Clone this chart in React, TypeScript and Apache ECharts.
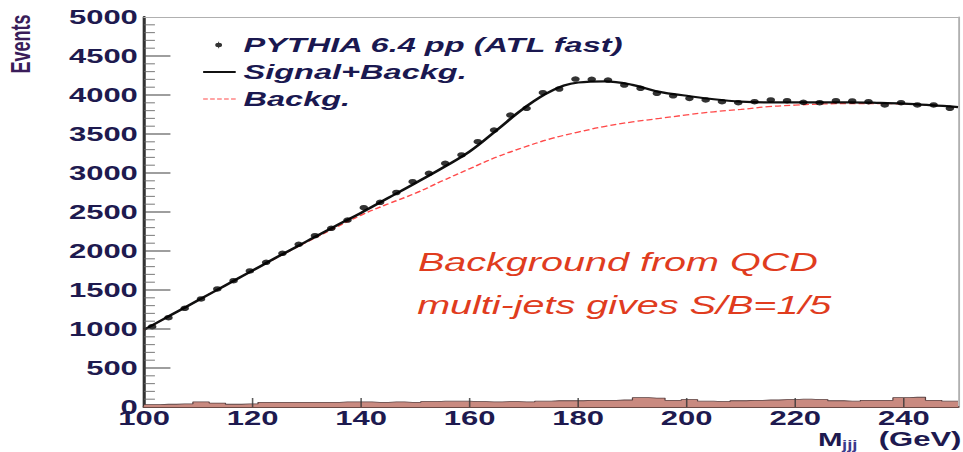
import React, { useEffect, useRef } from "react";
import * as echarts from "echarts";

// Reconstructed three-jet invariant mass (bin centres, GeV) and PYTHIA events per bin
const pythiaMass = [
  101.5, 104.5, 107.5, 110.5, 113.5, 116.5, 119.5, 122.5, 125.5, 128.5,
  131.5, 134.5, 137.5, 140.5, 143.5, 146.5, 149.5, 152.5, 155.5, 158.5,
  161.5, 164.5, 167.5, 170.5, 173.5, 176.5, 179.5, 182.5, 185.5, 188.5,
  191.5, 194.5, 197.5, 200.5, 203.5, 206.5, 209.5, 212.5, 215.5, 218.5,
  221.5, 224.5, 227.5, 230.5, 233.5, 236.5, 239.5, 242.5, 245.5, 248.5,
];
const pythiaEvents = [
  1029, 1145, 1265, 1385, 1513, 1619, 1744, 1855, 1970, 2086,
  2196, 2291, 2397, 2555, 2624, 2750, 2888, 2996, 3124, 3231,
  3401, 3551, 3743, 3829, 4030, 4077, 4205, 4201, 4192, 4128,
  4086, 4022, 3990, 3957, 3936, 3914, 3901, 3914, 3936, 3927,
  3906, 3901, 3927, 3923, 3914, 3872, 3901, 3872, 3872, 3829,
];

// Fit curves sampled every 5 GeV
const fitMass = [
  100, 105, 110, 115, 120, 125, 130, 135, 140, 145, 150, 155, 160, 165, 170, 175,
  180, 185, 190, 195, 200, 205, 210, 215, 220, 225, 230, 235, 240, 245, 250,
];
const signalPlusBackground = [
  990, 1180, 1370, 1560, 1750, 1940, 2125, 2310, 2490, 2680, 2870, 3065, 3275, 3550, 3830, 4050,
  4160, 4175, 4130, 4040, 3990, 3945, 3915, 3905, 3905, 3905, 3905, 3900, 3890, 3870, 3845,
];
const backgroundOnly = [
  990, 1180, 1370, 1560, 1750, 1935, 2115, 2290, 2460, 2605, 2740, 2900, 3055, 3205, 3330, 3440,
  3525, 3598, 3655, 3700, 3745, 3785, 3815, 3850, 3870, 3885, 3890, 3890, 3885, 3870, 3845,
];

// Small filled histogram along the bottom of the frame (same binning as the data)
const bottomHistogram = [
  30, 35, 40, 65, 50, 35, 40, 60, 60, 60,
  60, 60, 65, 65, 60, 65, 60, 70, 75, 75,
  70, 65, 70, 65, 75, 80, 80, 85, 85, 90,
  120, 115, 85, 95, 75, 70, 80, 85, 90, 95,
  100, 95, 80, 75, 85, 85, 120, 125, 85, 75,
];

// Tick positions
const xTickLabels = ["100", "120", "140", "160", "180", "200", "220", "240"];
const xMajorTicks = [120, 140, 160, 180, 200, 220, 240];
const yMajorTicks = [500, 1000, 1500, 2000, 2500, 3000, 3500, 4000, 4500];
const yMinorTicks = [
  100, 200, 300, 400, 600, 700, 800, 900, 1100, 1200, 1300, 1400, 1600, 1700, 1800, 1900,
  2100, 2200, 2300, 2400, 2600, 2700, 2800, 2900, 3100, 3200, 3300, 3400, 3600, 3700, 3800, 3900,
  4100, 4200, 4300, 4400, 4600, 4700, 4800, 4900,
];

const seriesNames = ["PYTHIA 6.4 pp (ATL fast)", "Signal+Backg.", "Backg."];
const noteLines = ["Background from QCD", "multi-jets gives S/B=1/5"];

// The frame is laid out narrow and widened horizontally, giving the stretched look of the plot
const STRETCH = 963 / 621;
const W = 621;
const H = 452;

const labelFont = "Liberation Sans";
const navy = "#1e1a4f";

// Inward tick marks: thin rectangular symbols anchored on the axis values
function tickMarks(name: string, points: number[][], size: number[], offset: number[], color: string) {
  return {
    name,
    type: "scatter",
    symbol: "rect",
    symbolSize: size,
    symbolOffset: offset,
    clip: false,
    data: points,
    itemStyle: { color },
    z: 6,
  };
}

const textElements = [
  {
    type: "text",
    x: 13.5,
    y: 44,
    rotation: Math.PI / 2,
    style: {
      text: "Events",
      align: "center",
      verticalAlign: "middle",
      fontSize: 18,
      fontWeight: "bold",
      fontFamily: labelFont,
      fill: "#3a1d5a",
    },
  },
  {
    type: "text",
    x: 527.5,
    y: 439,
    style: {
      text: "M",
      align: "left",
      verticalAlign: "middle",
      fontSize: 19,
      fontWeight: "bold",
      fontFamily: labelFont,
      fill: navy,
    },
  },
  {
    type: "text",
    x: 543,
    y: 445,
    style: {
      text: "jjj",
      align: "left",
      verticalAlign: "middle",
      fontSize: 12,
      fontWeight: "bold",
      fontFamily: labelFont,
      fill: "#3d3a8c",
    },
  },
  {
    type: "text",
    x: 620,
    y: 439,
    style: {
      text: "(GeV)",
      align: "right",
      verticalAlign: "middle",
      fontSize: 20,
      fontWeight: "bold",
      fontFamily: labelFont,
      fill: navy,
    },
  },
  {
    type: "text",
    x: 269.5,
    y: 262.5,
    style: {
      text: noteLines[0],
      align: "left",
      verticalAlign: "middle",
      fontSize: 25.5,
      fontStyle: "italic",
      fontFamily: labelFont,
      fill: "#e03c1e",
    },
  },
  {
    type: "text",
    x: 269,
    y: 305,
    style: {
      text: noteLines[1],
      align: "left",
      verticalAlign: "middle",
      fontSize: 25.5,
      fontStyle: "italic",
      fontFamily: labelFont,
      fill: "#e03c1e",
    },
  },
];

export default function App() {
  const ref = useRef<HTMLDivElement>(null);

  useEffect(() => {
    if (!ref.current) return;
    document.body.style.overflow = "hidden";
    const chart = echarts.init(ref.current, undefined, { renderer: "svg", width: W, height: H });

    const histData: number[][] = [[100, bottomHistogram[0]]];
    pythiaMass.forEach((m, i) => histData.push([m, bottomHistogram[i]]));
    histData.push([250, bottomHistogram[bottomHistogram.length - 1]]);

    const frameAxis = {
      show: true,
      axisLine: { show: true, onZero: false, lineStyle: { color: "#b0b0b0", width: 1.2 } },
      axisTick: { show: false },
      axisLabel: { show: false },
      splitLine: { show: false },
    };

    chart.setOption({
      animation: false,
      backgroundColor: "#ffffff",
      grid: { left: 92.9, right: 3.2, top: 17, bottom: 45, show: false },
      xAxis: [
        {
          type: "value",
          position: "bottom",
          min: 100,
          max: 250,
          interval: 20,
          axisLine: { show: true, onZero: false, lineStyle: { color: "#6b4a45", width: 2 } },
          axisTick: { show: false },
          axisLabel: {
            show: true,
            showMaxLabel: false,
            margin: 1,
            fontSize: 20,
            fontWeight: "bold",
            fontFamily: labelFont,
            color: navy,
            formatter: (v: number) => (xTickLabels.includes(String(v)) ? String(v) : ""),
          },
          splitLine: { show: false },
        },
        { type: "value", position: "top", min: 100, max: 250, ...frameAxis },
      ],
      yAxis: [
        {
          type: "value",
          position: "left",
          min: 0,
          max: 5000,
          interval: 500,
          axisLine: { show: true, onZero: false, lineStyle: { color: "#333", width: 2 } },
          axisTick: { show: false },
          axisLabel: {
            show: true,
            margin: 4,
            fontSize: 20,
            fontWeight: "bold",
            fontFamily: labelFont,
            color: navy,
            formatter: (v: number) => String(v),
          },
          splitLine: { show: false },
        },
        { type: "value", position: "right", min: 0, max: 5000, ...frameAxis },
      ],
      legend: {
        orient: "vertical",
        left: 126,
        top: 29,
        itemWidth: 21,
        itemHeight: 14,
        itemGap: 5,
        selectedMode: false,
        itemStyle: { borderWidth: 0 },
        textStyle: {
          fontFamily: labelFont,
          fontWeight: "bold",
          fontStyle: "italic",
          fontSize: 21,
          lineHeight: 22,
          color: "#1a1850",
        },
        data: [
          {
            name: seriesNames[0],
            icon: "path://M0,0M21,14M7.8,7A2.2,2.2,0,1,0,12.2,7A2.2,2.2,0,1,0,7.8,7ZM9.7,3.8L9.7,10.2L10.3,10.2L10.3,3.8Z",
          },
          { name: seriesNames[1], icon: "path://M0,0M21,14M0,6L21,6L21,8L0,8Z" },
          {
            name: seriesNames[2],
            icon:
              "path://M0,0M21,14M0,6.5L3,6.5L3,7.5L0,7.5ZM4.5,6.5L7.5,6.5L7.5,7.5L4.5,7.5ZM9,6.5L12,6.5L12,7.5L9,7.5ZM13.5,6.5L16.5,6.5L16.5,7.5L13.5,7.5ZM18,6.5L21,6.5L21,7.5L18,7.5Z",
          },
        ],
      },
      series: [
        {
          name: "bottom",
          type: "line",
          step: "middle",
          symbol: "none",
          data: histData,
          lineStyle: { color: "#5a4040", width: 0.8 },
          areaStyle: { color: "#c98a80", opacity: 1 },
          z: 1,
        },
        {
          name: seriesNames[2],
          type: "line",
          smooth: 0.4,
          symbol: "none",
          data: fitMass.map((m, i) => [m, backgroundOnly[i]]),
          lineStyle: { color: "#ff4a4a", width: 1.3, type: [4, 2] },
          itemStyle: { color: "#ff4a4a" },
          z: 3,
        },
        {
          name: seriesNames[1],
          type: "line",
          smooth: 0.4,
          symbol: "none",
          data: fitMass.map((m, i) => [m, signalPlusBackground[i]]),
          lineStyle: { color: "#111", width: 2.2 },
          itemStyle: { color: "#111" },
          z: 4,
        },
        {
          name: seriesNames[0],
          type: "scatter",
          symbol: "circle",
          symbolSize: 5.5,
          data: pythiaMass.map((m, i) => [m, pythiaEvents[i]]),
          itemStyle: { color: "#000" },
          z: 5,
        },
        tickMarks("y major ticks", yMajorTicks.map((v) => [100, v]), [17, 1.3], [8.5, 0], "#444"),
        tickMarks("y minor ticks", yMinorTicks.map((v) => [100, v]), [7, 1.1], [3.5, 0], "#666"),
        tickMarks("x major ticks", xMajorTicks.map((v) => [v, 0]), [1, 9], [0, -4.5], "#333"),
      ],
      graphic: { elements: textElements },
    });

    return () => {
      chart.dispose();
    };
  }, []);

  return (
    <div
      style={{
        position: "absolute",
        left: 0,
        top: 0,
        width: W,
        height: H,
        transform: `scaleX(${STRETCH})`,
        transformOrigin: "0 0",
        background: "#fff",
      }}
    >
      <div ref={ref} style={{ width: W, height: H }} />
    </div>
  );
}
